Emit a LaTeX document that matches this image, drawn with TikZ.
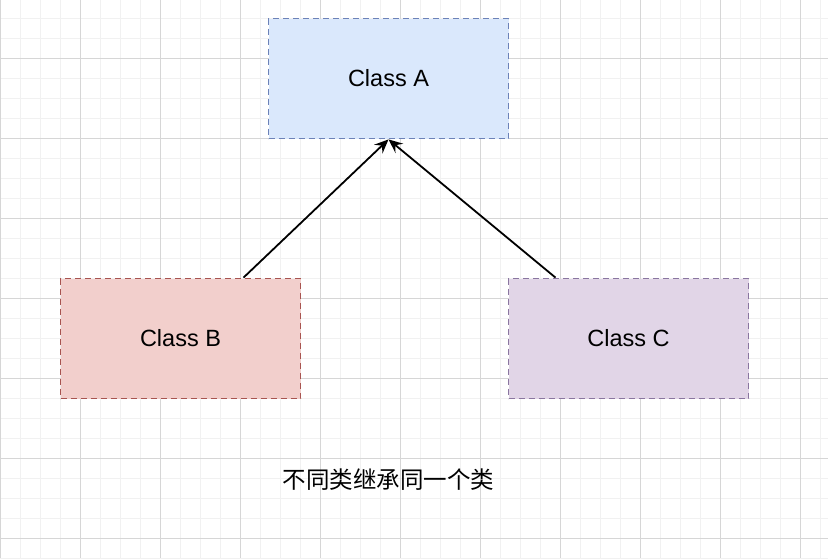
\documentclass[tikz,border=0pt]{standalone}
\usepackage{fontspec}
\setmainfont{Liberation Sans}
\newfontfamily\cjk{Noto Sans CJK SC}
\usetikzlibrary{arrows.meta}
\definecolor{gridminor}{HTML}{F1F1F1}
\definecolor{gridmajor}{HTML}{D6D6D6}
\definecolor{afill}{HTML}{DAE8FC}
\definecolor{adraw}{HTML}{6C82B8}
\definecolor{bfill}{HTML}{F2CFCC}
\definecolor{bdraw}{HTML}{A85450}
\definecolor{cfill}{HTML}{E1D5E7}
\definecolor{cdraw}{HTML}{8A76A0}
\tikzset{
  classbox/.style={rectangle, minimum width=240pt, minimum height=120pt, line width=1.8pt,
    dash pattern=on 6pt off 4pt, font=\fontsize{23.5}{28}\selectfont, inner sep=0pt},
  inherit/.style={line width=1.8pt, -{Stealth[length=14pt,width=12pt,inset=5pt]}},
}
\begin{document}
\begin{tikzpicture}[x=1pt,y=-1pt]
\useasboundingbox (0,0) rectangle (828,558);
\fill[white] (0,0) rectangle (828,558);
% minor grid
\foreach \x in {20,40,...,820} \draw[gridminor, line width=1pt] (\x,0) -- (\x,558);
\foreach \y in {18,38,...,558} \draw[gridminor, line width=1pt] (0,\y) -- (828,\y);
% major grid
\foreach \x in {0,80,...,820} \draw[gridmajor, line width=1pt] (\x,0) -- (\x,558);
\foreach \y in {58,138,...,558} \draw[gridmajor, line width=1pt] (0,\y) -- (828,\y);

\node[classbox, fill=afill, draw=adraw] (a) at (388.5,78.5) {Class A};
\node[classbox, fill=bfill, draw=bdraw] (b) at (180.5,338.5) {Class B};
\node[classbox, fill=cfill, draw=cdraw] (c) at (628.5,338.5) {Class C};
\node[font=\cjk\fontsize{23.5}{28}\selectfont] (label) at (388.5,480) {不同类继承同一个类};

\draw[inherit] ([xshift=63pt]b.north) -- (a.south);
\draw[inherit] ([xshift=-73pt]c.north) -- (a.south);
\end{tikzpicture}
\end{document}
